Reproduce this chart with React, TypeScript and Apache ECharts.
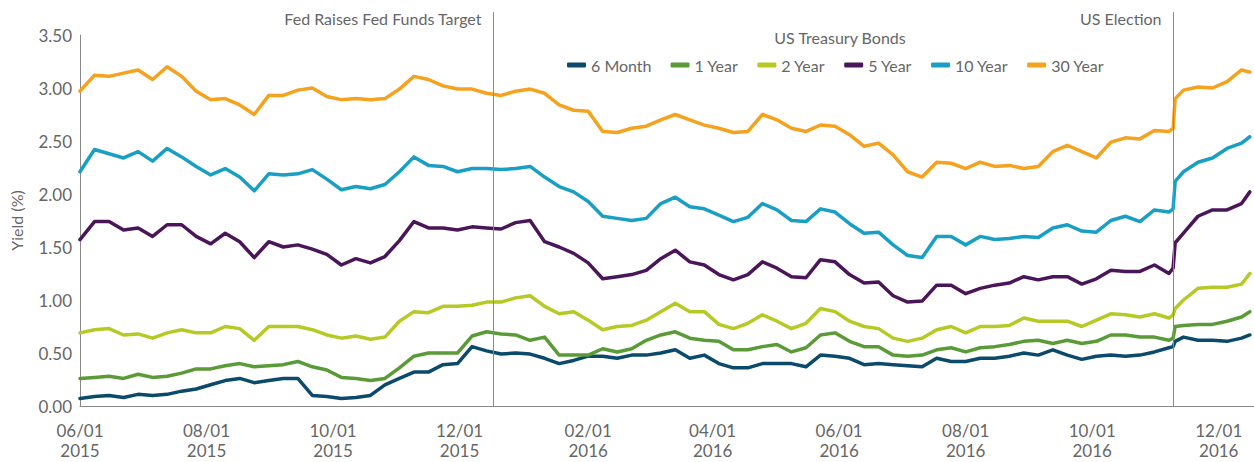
import React, { useEffect, useRef } from "react";
import * as echarts from "echarts";

const dates = [
  "2015-06-01", "2015-06-08", "2015-06-15", "2015-06-22", "2015-06-29", "2015-07-06", "2015-07-13", "2015-07-20",
  "2015-07-27", "2015-08-03", "2015-08-10", "2015-08-17", "2015-08-24", "2015-08-31", "2015-09-07", "2015-09-14",
  "2015-09-21", "2015-09-28", "2015-10-05", "2015-10-12", "2015-10-19", "2015-10-26", "2015-11-02", "2015-11-09",
  "2015-11-16", "2015-11-23", "2015-11-30", "2015-12-07", "2015-12-14", "2015-12-21", "2015-12-28", "2016-01-04",
  "2016-01-11", "2016-01-18", "2016-01-25", "2016-02-01", "2016-02-08", "2016-02-15", "2016-02-22", "2016-02-29",
  "2016-03-07", "2016-03-14", "2016-03-21", "2016-03-28", "2016-04-04", "2016-04-11", "2016-04-18", "2016-04-25",
  "2016-05-02", "2016-05-09", "2016-05-16", "2016-05-23", "2016-05-30", "2016-06-06", "2016-06-13", "2016-06-20",
  "2016-06-27", "2016-07-04", "2016-07-11", "2016-07-18", "2016-07-25", "2016-08-01", "2016-08-08", "2016-08-15",
  "2016-08-22", "2016-08-29", "2016-09-05", "2016-09-12", "2016-09-19", "2016-09-26", "2016-10-03", "2016-10-10",
  "2016-10-17", "2016-10-24", "2016-10-31", "2016-11-07", "2016-11-09", "2016-11-10", "2016-11-14", "2016-11-21",
  "2016-11-28", "2016-12-05", "2016-12-12", "2016-12-16",
];

const sixMonth = [
  0.07, 0.09, 0.10, 0.08, 0.11, 0.10, 0.11, 0.14, 0.16, 0.20, 0.24, 0.26, 0.22, 0.24, 0.26, 0.26,
  0.10, 0.09, 0.07, 0.08, 0.10, 0.20, 0.26, 0.32, 0.32, 0.39, 0.40, 0.56, 0.52, 0.49, 0.50, 0.49, 0.45,
  0.40, 0.43, 0.47, 0.47, 0.45, 0.48, 0.48, 0.50, 0.53, 0.45, 0.48, 0.40, 0.36, 0.36, 0.40, 0.40, 0.40,
  0.37, 0.48, 0.47, 0.45, 0.39, 0.40, 0.39, 0.38, 0.37, 0.45, 0.42, 0.42, 0.45, 0.45, 0.47, 0.50, 0.48,
  0.53, 0.48, 0.44, 0.47, 0.48, 0.47, 0.48, 0.51, 0.55,
  0.56, 0.61,
  0.65, 0.62, 0.62, 0.61, 0.64, 0.67,
];

const oneYear = [
  0.26, 0.27, 0.28, 0.26, 0.30, 0.27, 0.28, 0.31, 0.35, 0.35, 0.38, 0.40, 0.37, 0.38, 0.39, 0.42,
  0.37, 0.34, 0.27, 0.26, 0.24, 0.26, 0.36, 0.47, 0.50, 0.50, 0.50, 0.66, 0.70, 0.68, 0.67, 0.62, 0.65,
  0.48, 0.48, 0.48, 0.54, 0.51, 0.54, 0.62, 0.67, 0.70, 0.64, 0.62, 0.61, 0.53, 0.53, 0.56, 0.58, 0.51,
  0.55, 0.67, 0.69, 0.61, 0.56, 0.56, 0.48, 0.47, 0.48, 0.53, 0.55, 0.51, 0.55, 0.56, 0.58, 0.61, 0.62,
  0.59, 0.62, 0.59, 0.61, 0.67, 0.67, 0.65, 0.65, 0.62,
  0.64, 0.75,
  0.76, 0.77, 0.77, 0.80, 0.84, 0.89,
];

const twoYear = [
  0.69, 0.72, 0.73, 0.67, 0.68, 0.64, 0.69, 0.72, 0.69, 0.69, 0.75, 0.73, 0.62, 0.75, 0.75, 0.75,
  0.72, 0.67, 0.64, 0.66, 0.63, 0.65, 0.80, 0.89, 0.88, 0.94, 0.94, 0.95, 0.98, 0.98, 1.02, 1.04, 0.94,
  0.87, 0.89, 0.81, 0.72, 0.75, 0.76, 0.81, 0.89, 0.97, 0.89, 0.89, 0.77, 0.73, 0.78, 0.86, 0.80, 0.73,
  0.78, 0.92, 0.89, 0.80, 0.75, 0.73, 0.64, 0.61, 0.64, 0.72, 0.75, 0.69, 0.75, 0.75, 0.76, 0.83, 0.80,
  0.80, 0.80, 0.75, 0.81, 0.87, 0.86, 0.84, 0.87, 0.83,
  0.86, 0.92,
  1.00, 1.11, 1.12, 1.12, 1.15, 1.25,
];

const fiveYear = [
  1.57, 1.74, 1.74, 1.66, 1.68, 1.60, 1.71, 1.71, 1.60, 1.53, 1.63, 1.55, 1.40, 1.55, 1.50, 1.52,
  1.48, 1.43, 1.33, 1.39, 1.35, 1.41, 1.56, 1.74, 1.68, 1.68, 1.66, 1.69, 1.68, 1.67, 1.73, 1.75, 1.55,
  1.50, 1.44, 1.35, 1.20, 1.22, 1.24, 1.28, 1.39, 1.47, 1.36, 1.33, 1.24, 1.19, 1.24, 1.36, 1.30, 1.22,
  1.21, 1.38, 1.36, 1.24, 1.16, 1.17, 1.04, 0.98, 0.99, 1.14, 1.14, 1.06, 1.11, 1.14, 1.16, 1.22, 1.19,
  1.22, 1.22, 1.15, 1.20, 1.28, 1.27, 1.27, 1.33, 1.25,
  1.30, 1.54,
  1.63, 1.79, 1.85, 1.85, 1.91, 2.02,
];

const tenYear = [
  2.21, 2.42, 2.38, 2.34, 2.40, 2.31, 2.43, 2.35, 2.26, 2.18, 2.24, 2.16, 2.03, 2.19, 2.18, 2.19,
  2.23, 2.14, 2.04, 2.07, 2.05, 2.09, 2.21, 2.35, 2.27, 2.26, 2.21, 2.24, 2.24, 2.23, 2.24, 2.26, 2.16,
  2.07, 2.02, 1.93, 1.79, 1.77, 1.75, 1.77, 1.91, 1.97, 1.88, 1.86, 1.80, 1.74, 1.78, 1.91, 1.85, 1.75,
  1.74, 1.86, 1.83, 1.72, 1.63, 1.64, 1.52, 1.42, 1.40, 1.60, 1.60, 1.52, 1.60, 1.57, 1.58, 1.60, 1.59,
  1.68, 1.71, 1.65, 1.64, 1.75, 1.79, 1.74, 1.85, 1.83,
  1.86, 2.12,
  2.21, 2.30, 2.34, 2.43, 2.48, 2.54,
];

const thirtyYear = [
  2.97, 3.12, 3.11, 3.14, 3.17, 3.08, 3.20, 3.11, 2.97, 2.89, 2.90, 2.84, 2.75, 2.93, 2.93, 2.98,
  3.00, 2.92, 2.89, 2.90, 2.89, 2.90, 2.99, 3.11, 3.08, 3.02, 2.99, 2.99, 2.95, 2.93, 2.97, 2.99, 2.95,
  2.84, 2.79, 2.78, 2.59, 2.58, 2.62, 2.64, 2.70, 2.75, 2.70, 2.65, 2.62, 2.58, 2.59, 2.75, 2.70, 2.62,
  2.59, 2.65, 2.64, 2.56, 2.45, 2.48, 2.37, 2.21, 2.16, 2.30, 2.29, 2.24, 2.30, 2.26, 2.27, 2.24, 2.26,
  2.40, 2.46, 2.40, 2.34, 2.49, 2.53, 2.52, 2.60, 2.59,
  2.62, 2.90,
  2.98, 3.01, 3.00, 3.06, 3.17, 3.15,
];

const seriesNames = ["6 Month", "1 Year", "2 Year", "5 Year", "10 Year", "30 Year"];
const seriesValues = [sixMonth, oneYear, twoYear, fiveYear, tenYear, thirtyYear];
const seriesColors = ["#0b4a6b", "#5b9b37", "#b6c925", "#4b1659", "#1a9fc4", "#f5a21e"];

const xTickDates = [
  "2015-06-01", "2015-08-01", "2015-10-01", "2015-12-01", "2016-02-01",
  "2016-04-01", "2016-06-01", "2016-08-01", "2016-10-01", "2016-12-01",
];
const xMin = "2015-06-01";
const xMax = "2016-12-18";

const eventDates = ["2015-12-17", "2016-11-09"];
const eventLabels = ["Fed Raises Fed Funds Target", "US Election"];

const legendTitle = "US Treasury Bonds";
const yAxisTitle = "Yield (%)";

const FONT = "Lato, 'Noto Sans', sans-serif";
const TEXT = "#666666";
const AXIS = "#8a8a8a";

function ts(d: string): number {
  const [y, m, day] = d.split("-").map(Number);
  return Date.UTC(y, m - 1, day);
}
function fmt(v: number): string {
  const dt = new Date(v);
  const mm = String(dt.getUTCMonth() + 1).padStart(2, "0");
  const dd = String(dt.getUTCDate()).padStart(2, "0");
  return mm + "/" + dd + "\n" + dt.getUTCFullYear();
}

export default function App() {
  const ref = useRef<HTMLDivElement>(null);

  useEffect(() => {
    if (!ref.current) return;
    const chart = echarts.init(ref.current, null, { renderer: "svg" });

    const option: any = {
      animation: false,
      textStyle: { fontFamily: FONT },
      grid: { left: 77, right: 0, top: 35, bottom: 56, containLabel: false },
      legend: {
        data: seriesNames,
        left: 562,
        top: 50,
        icon: "roundRect",
        itemWidth: 19,
        itemHeight: 5,
        itemGap: 19,
        textStyle: { fontFamily: FONT, fontSize: 16, color: TEXT, lineHeight: 20 },
      },
      xAxis: {
        type: "value",
        min: ts(xMin),
        max: ts(xMax),
        axisLine: { show: true, lineStyle: { color: AXIS, width: 1 } },
        axisTick: { show: false },
        splitLine: { show: false },
        axisLabel: {
          customValues: xTickDates.map(ts),
          formatter: (v: number) => fmt(v),
          fontFamily: FONT,
          fontSize: 17,
          lineHeight: 20,
          color: TEXT,
          margin: 14,
          hideOverlap: false,
        },
      },
      yAxis: {
        type: "value",
        min: 0,
        max: 3.5,
        interval: 0.5,
        name: yAxisTitle,
        nameLocation: "middle",
        nameGap: 56,
        nameRotate: 90,
        nameTextStyle: { fontFamily: FONT, fontSize: 16, color: TEXT },
        axisLine: { show: true, lineStyle: { color: AXIS, width: 1 } },
        axisTick: { show: false },
        splitLine: { show: false },
        axisLabel: {
          formatter: (v: number) => v.toFixed(2),
          fontFamily: FONT,
          fontSize: 17,
          color: TEXT,
          margin: 8,
        },
      },
      series: seriesNames.map((name, i) => ({
        name,
        type: "line",
        showSymbol: false,
        symbol: "none",
        color: seriesColors[i],
        lineStyle: { width: 3.5, color: seriesColors[i], join: "round", cap: "round" },
        data: dates.map((d, j) => [ts(d), seriesValues[i][j]]),
      })),
    };
    chart.setOption(option);

    const yBottom = chart.convertToPixel({ yAxisIndex: 0 }, 0) as number;
    const graphics: any[] = [];
    eventDates.forEach((d, i) => {
      const x = Math.round(chart.convertToPixel({ xAxisIndex: 0 }, ts(d)) as number) + 0.5;
      graphics.push({
        type: "line",
        silent: true,
        shape: { x1: x, y1: 12, x2: x, y2: yBottom },
        style: { stroke: AXIS, lineWidth: 1 },
        z: 10,
      });
      graphics.push({
        type: "text",
        silent: true,
        x: x - 12,
        y: 18,
        style: {
          text: eventLabels[i],
          fontFamily: FONT,
          fontSize: 16,
          fill: TEXT,
          align: "right",
          verticalAlign: "middle",
        },
      });
    });
    graphics.push({
      type: "text",
      silent: true,
      x: 840,
      y: 37,
      style: {
        text: legendTitle,
        fontFamily: FONT,
        fontSize: 16,
        fill: TEXT,
        align: "center",
        verticalAlign: "middle",
      },
    });
    chart.setOption({ graphic: graphics });

    return () => chart.dispose();
  }, []);

  return (
    <div
      ref={ref}
      style={{ position: "absolute", left: 0, top: 0, width: 1254, height: 462, background: "#fff" }}
    />
  );
}
